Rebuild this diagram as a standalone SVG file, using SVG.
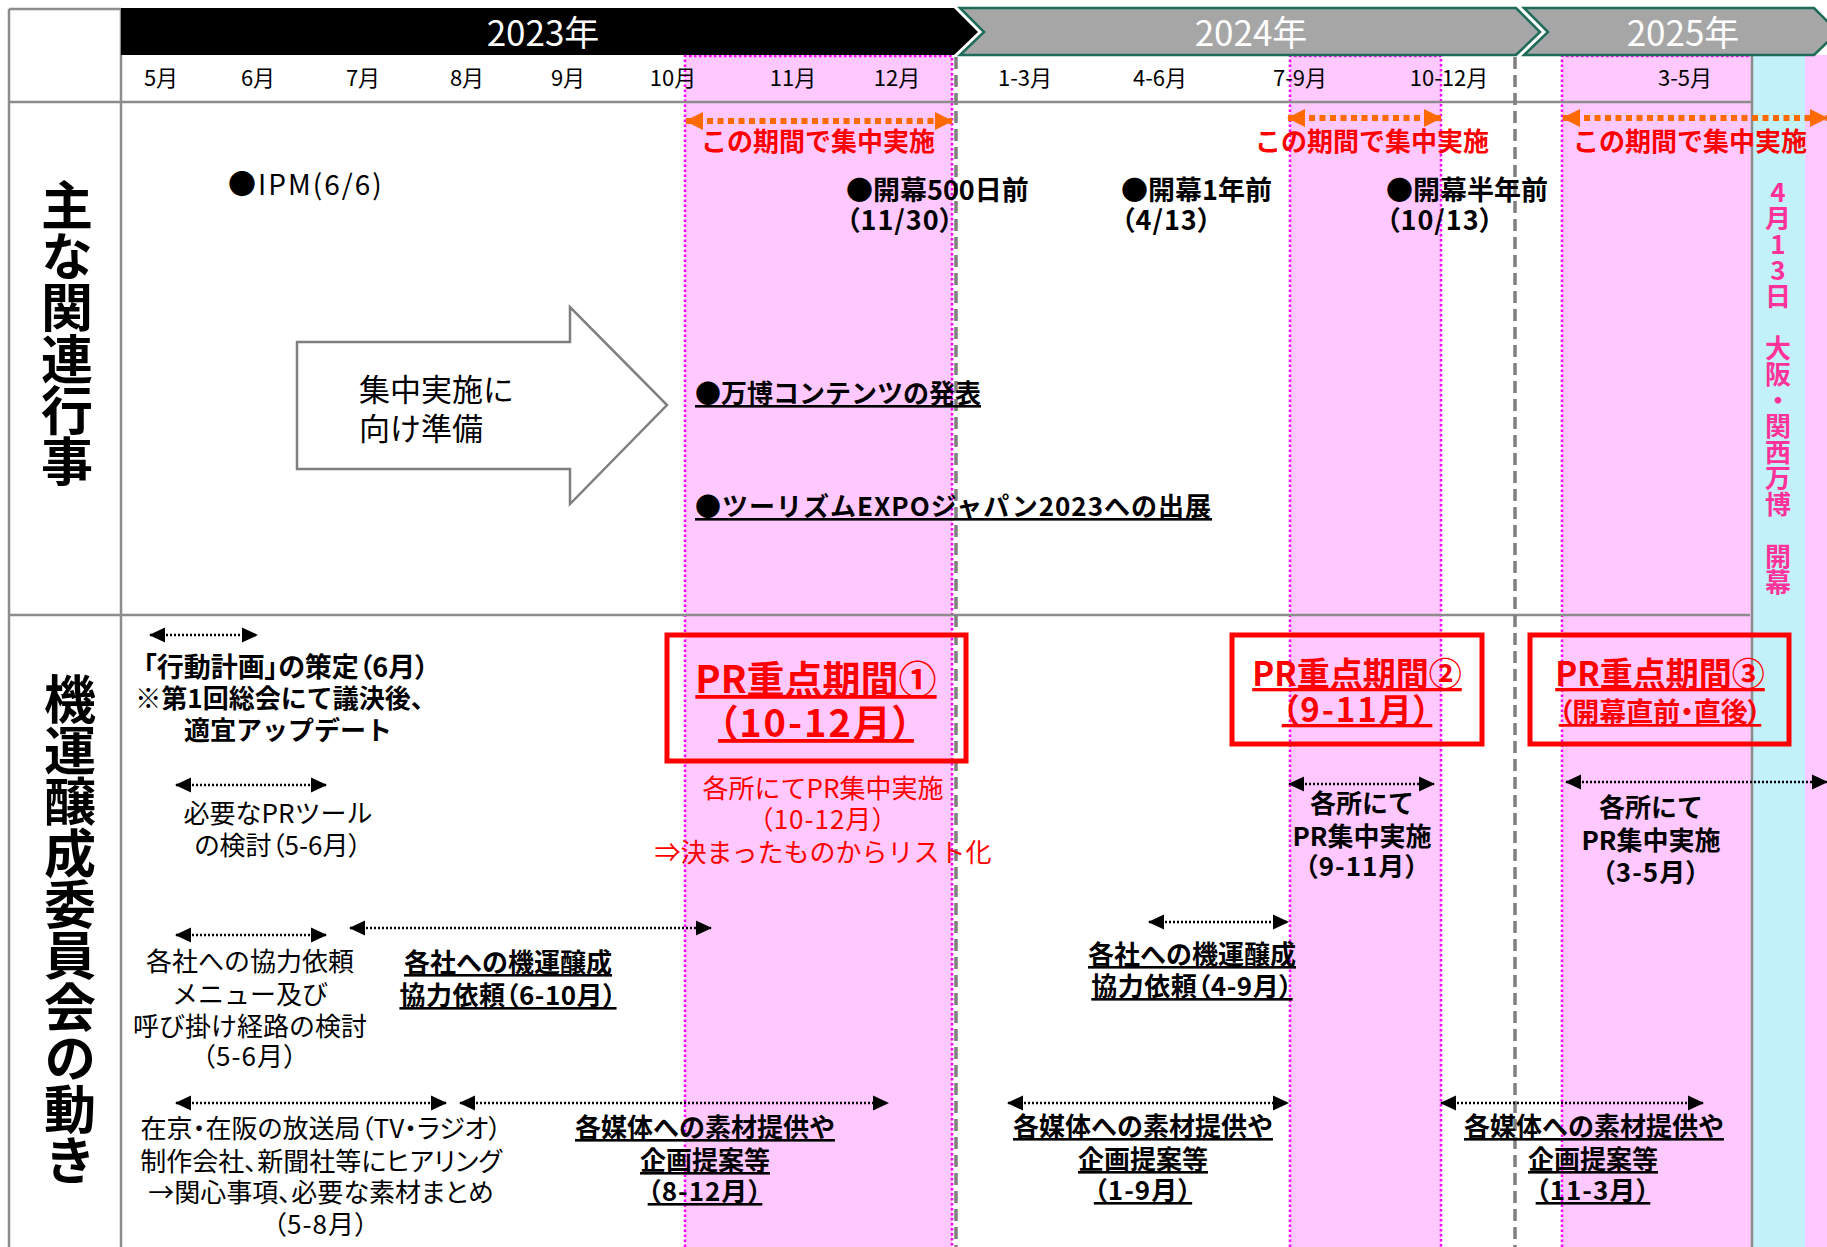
<svg xmlns="http://www.w3.org/2000/svg" width="1827" height="1247" viewBox="0 0 1827 1247">
<defs>
<style>
text{font-family:"Noto Sans CJK JP","Noto Sans",sans-serif;}
.m{font-size:22px;text-anchor:middle;fill:#000}
.yr{font-size:35px;text-anchor:middle;fill:#fff}
.t{font-size:26px;text-anchor:middle;fill:#000}
.s{text-anchor:start}
.b{font-weight:700}
.u{text-decoration:underline}
.r{fill:#ff0000}
.p{font-feature-settings:"palt"}
.grid{stroke:#8c8c8c;stroke-width:2.5;fill:none}
.yd{stroke:#7f7f7f;stroke-width:3.5;stroke-dasharray:12 6;fill:none}
.pk{fill:#ffc8fe}
.md{stroke:#ff00ff;stroke-width:2.5;stroke-dasharray:2.5 2.5;fill:none}
.ba{stroke:#000;stroke-width:2.5;stroke-dasharray:2 2;fill:none;marker-start:url(#ab);marker-end:url(#ab)}
.oa{stroke:#ff6a00;stroke-width:6;stroke-dasharray:6 4.5;fill:none;marker-start:url(#ao);marker-end:url(#ao)}
.box{fill:none;stroke:#ff0000;stroke-width:5}
.ban{stroke:#1d6b58;stroke-width:2.5;fill:#a6a6a6}
.vl{font-size:52px;font-weight:700;fill:#000;writing-mode:vertical-rl;text-orientation:upright;letter-spacing:-0.7px}
.vp{font-size:26px;font-weight:700;fill:#ff3399;writing-mode:vertical-rl;text-orientation:upright}
</style>
<marker id="ab" viewBox="0 0 16 16" refX="15" refY="8" markerWidth="16" markerHeight="16" markerUnits="userSpaceOnUse" orient="auto-start-reverse"><path d="M0,0.5 L16,8 L0,15.5 z" fill="#000"/></marker>
<marker id="ao" viewBox="0 0 18 18" refX="17" refY="9" markerWidth="18" markerHeight="18" markerUnits="userSpaceOnUse" orient="auto-start-reverse"><path d="M0,0 L18,9 L0,18 z" fill="#ff6a00"/></marker>
</defs>
<rect x="0" y="0" width="1827" height="1247" fill="#fff"/>

<g id="background">
<rect class="pk" x="685" y="55" width="267" height="1200"/>
<rect class="pk" x="1290" y="55" width="151" height="1200"/>
<rect class="pk" x="1562" y="55" width="270" height="1200"/>
<rect x="1752" y="55" width="53" height="1200" fill="#c3f1fa"/>
<path class="md" d="M685,1247 V56 H952 V1247 M1290,1247 V56 H1441 V1247 M1562,1247 V56 H1752"/>
</g>

<g id="grid">
<path class="grid" d="M9,9 H121 M9,9 V1247 M9,102 H1752 M9,615 H1750"/>
<path class="grid" stroke-width="3.5" d="M121,8 V1247"/>
<path class="grid" d="M1752,55 V1247"/>
<path class="yd" d="M956,57 V1247 M1515,57 V1247"/>
</g>

<g id="banners">
<polygon points="121,8 954,8 978,32 954,55 121,55" fill="#000"/>
<polygon class="ban" points="960,8 1516,8 1540,32 1516,55 960,55 984,32"/>
<polygon class="ban" points="1524,8 1814,8 1838,32 1814,55 1524,55 1548,32"/>
<text class="yr" x="543" y="46">2023年</text>
<text class="yr" x="1251" y="46">2024年</text>
<text class="yr" x="1683" y="46">2025年</text>
</g>

<g id="months">
<text class="m" x="161" y="86">5月</text>
<text class="m" x="258" y="86">6月</text>
<text class="m" x="363" y="86">7月</text>
<text class="m" x="467" y="86">8月</text>
<text class="m" x="568" y="86">9月</text>
<text class="m" x="673" y="86">10月</text>
<text class="m" x="793" y="86">11月</text>
<text class="m" x="897" y="86">12月</text>
<text class="m" x="1025" y="86">1-3月</text>
<text class="m" x="1160" y="86">4-6月</text>
<text class="m" x="1300" y="86">7-9月</text>
<text class="m" x="1449" y="86">10-12月</text>
<text class="m" x="1685" y="86">3-5月</text>
</g>

<g id="row-labels">
<text class="vl" x="67" y="179">主な関連行事</text>
<text class="vl" x="70" y="673">機運醸成委員会の動き</text>
</g>

<g id="expo-open">
<text class="vp" x="1778" y="179">4月13日 大阪・関西万博 開幕</text>
</g>

<g id="connectors">
<line class="oa" x1="686" y1="121" x2="952" y2="121"/>
<line class="oa" x1="1288" y1="118" x2="1441" y2="118"/>
<line class="oa" x1="1563" y1="118" x2="1827" y2="118"/>
<line class="ba" x1="150" y1="635" x2="257" y2="635"/>
<line class="ba" x1="176" y1="785" x2="326" y2="785"/>
<line class="ba" x1="176" y1="935" x2="326" y2="935"/>
<line class="ba" x1="350" y1="928" x2="711" y2="928"/>
<line class="ba" x1="176" y1="1103" x2="446" y2="1103"/>
<line class="ba" x1="460" y1="1103" x2="888" y2="1103"/>
<line class="ba" x1="1289" y1="784" x2="1434" y2="784"/>
<line class="ba" x1="1566" y1="782" x2="1827" y2="782"/>
<line class="ba" x1="1149" y1="922" x2="1288" y2="922"/>
<line class="ba" x1="1008" y1="1103" x2="1288" y2="1103"/>
<line class="ba" x1="1441" y1="1103" x2="1703" y2="1103"/>
</g>

<g id="focus-labels">
<text class="t b r" x="818" y="151">この期間で集中実施</text>
<text class="t b r" x="1372" y="151">この期間で集中実施</text>
<text class="t b r" x="1690" y="151">この期間で集中実施</text>
</g>

<g id="ev-ipm"><text class="t s" x="228" y="195" style="font-size:28px;letter-spacing:2px">●IPM(6/6)</text></g>
<g id="ev-500"><text class="t s b" x="846" y="200" style="font-size:27px">●開幕500日前</text><text class="t s b p" x="846" y="230" style="font-size:27px;letter-spacing:1px">（11/30）</text></g>
<g id="ev-1y"><text class="t s b" x="1121" y="200" style="font-size:27px">●開幕1年前</text><text class="t s b p" x="1121" y="230" style="font-size:27px;letter-spacing:1px">（4/13）</text></g>
<g id="ev-half"><text class="t s b" x="1386" y="200" style="font-size:27px">●開幕半年前</text><text class="t s b p" x="1386" y="230" style="font-size:27px;letter-spacing:1px">（10/13）</text></g>
<g id="ev-contents"><text class="t s b u" x="695" y="403">●万博コンテンツの発表</text></g>
<g id="ev-tourism"><text class="t s b u" x="695" y="516" style="letter-spacing:1px">●ツーリズムEXPOジャパン2023への出展</text></g>

<g id="prep-arrow">
<polygon points="297,342 570,342 570,307 667,405 570,504 570,469 297,469" fill="#fff" stroke="#7f7f7f" stroke-width="2.5"/>
<text class="t s" x="359" y="401" style="font-size:31px">集中実施に</text>
<text class="t s" x="359" y="440" style="font-size:31px">向け準備</text>
</g>

<g id="plan">
<text class="t b p" x="286" y="677" style="font-size:27px">「行動計画」の策定（6月）</text>
<text class="t b" x="286" y="708">※第1回総会にて議決後、</text>
<text class="t b" x="288" y="740">適宜アップデート</text>
</g>
<g id="pr-tool">
<text class="t" x="278" y="823">必要なPRツール</text>
<text class="t p" x="278" y="855">の検討（5-6月）</text>
</g>
<g id="menu">
<text class="t" x="250" y="971">各社への協力依頼</text>
<text class="t" x="250" y="1004">メニュー及び</text>
<text class="t" x="250" y="1036">呼び掛け経路の検討</text>
<text class="t p" x="250" y="1066" style="letter-spacing:1px">（5-6月）</text>
</g>
<g id="request1">
<text class="t b u" x="508" y="972">各社への機運醸成</text>
<text class="t b u p" x="508" y="1005" style="letter-spacing:0.5px">協力依頼（6-10月）</text>
</g>
<g id="hearing">
<text class="t p" x="321" y="1138">在京・在阪の放送局（TV・ラジオ）</text>
<text class="t p" x="321" y="1171">制作会社、新聞社等にヒアリング</text>
<text class="t p" x="321" y="1202">→関心事項、必要な素材まとめ</text>
<text class="t p" x="321" y="1234" style="letter-spacing:1px">（5-8月）</text>
</g>
<g id="media1">
<text class="t b u" x="705" y="1137">各媒体への素材提供や</text>
<text class="t b u" x="705" y="1170">企画提案等</text>
<text class="t b u p" x="705" y="1201" style="letter-spacing:1px">（8-12月）</text>
</g>
<g id="pr1">
<rect class="box" x="667" y="635" width="299" height="126"/>
<text class="t b r u" x="816" y="693" style="font-size:38px">PR重点期間①</text>
<text class="t b r u p" x="816" y="737" style="font-size:38px;letter-spacing:2px">（10-12月）</text>
</g>
<g id="pr1-note">
<text class="t r" x="823" y="798">各所にてPR集中実施</text>
<text class="t r p" x="823" y="829" style="letter-spacing:1px">（10-12月）</text>
<text class="t r" x="823" y="862">⇒決まったものからリスト化</text>
</g>
<g id="pr2">
<rect class="box" x="1232" y="635" width="250" height="109"/>
<text class="t b r u" x="1357" y="686" style="font-size:33px">PR重点期間②</text>
<text class="t b r u p" x="1357" y="722" style="font-size:33px;letter-spacing:2px">（9-11月）</text>
</g>
<g id="pr3">
<rect class="box" x="1530" y="635" width="259" height="109"/>
<text class="t b r u" x="1660" y="686" style="font-size:33px">PR重点期間③</text>
<text class="t b r u p" x="1660" y="722" style="font-size:27px">（開幕直前・直後）</text>
</g>
<g id="pr2-note">
<text class="t b" x="1362" y="813">各所にて</text>
<text class="t b" x="1362" y="846">PR集中実施</text>
<text class="t b p" x="1362" y="876" style="letter-spacing:1px">（9-11月）</text>
</g>
<g id="pr3-note">
<text class="t b" x="1651" y="817">各所にて</text>
<text class="t b" x="1651" y="850">PR集中実施</text>
<text class="t b p" x="1651" y="882" style="letter-spacing:1px">（3-5月）</text>
</g>
<g id="request2">
<text class="t b u" x="1192" y="964">各社への機運醸成</text>
<text class="t b u p" x="1192" y="996" style="letter-spacing:0.5px">協力依頼（4-9月）</text>
</g>
<g id="media2">
<text class="t b u" x="1143" y="1136">各媒体への素材提供や</text>
<text class="t b u" x="1143" y="1169">企画提案等</text>
<text class="t b u p" x="1143" y="1200" style="letter-spacing:1px">（1-9月）</text>
</g>
<g id="media3">
<text class="t b u" x="1594" y="1136">各媒体への素材提供や</text>
<text class="t b u" x="1593" y="1169">企画提案等</text>
<text class="t b u p" x="1593" y="1200" style="letter-spacing:1px">（11-3月）</text>
</g>
</svg>
